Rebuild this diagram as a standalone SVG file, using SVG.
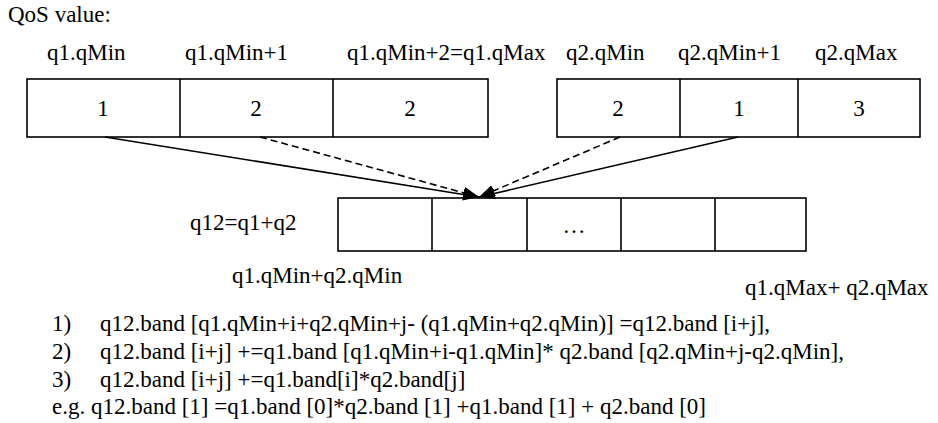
<svg xmlns="http://www.w3.org/2000/svg" width="938" height="423" viewBox="0 0 938 423">
<defs>
<marker id="ah" markerUnits="userSpaceOnUse" markerWidth="17" markerHeight="13" refX="16" refY="6" orient="auto">
<path d="M0,0 L16,6 L0,12 z" fill="#000"/>
</marker>
<style>
text{font-family:"Liberation Serif","DejaVu Serif","Noto Serif","Times New Roman",serif;font-size:23px;fill:#000}
.c{text-anchor:middle}
.box{fill:#fff;stroke:#000;stroke-width:1.6}
.ln{stroke:#000;stroke-width:1.6;fill:none}
.dash{stroke-dasharray:7 4}
</style>
</defs>
<rect width="938" height="423" fill="#fff"/>
<g font-family="Liberation Serif, DejaVu Serif, serif">
<text x="8" y="22">QoS value:</text>
<g id="labels">
<text x="47" y="60">q1.qMin</text>
<text x="185" y="60">q1.qMin+1</text>
<text x="347" y="60">q1.qMin+2=q1.qMax</text>
<text x="566" y="60">q2.qMin</text>
<text x="678" y="60">q2.qMin+1</text>
<text x="815" y="60">q2.qMax</text>
</g>
<g id="q1">
<rect class="box" x="27" y="79" width="461" height="58"/>
<line class="ln" x1="180" y1="79" x2="180" y2="137"/>
<line class="ln" x1="333" y1="79" x2="333" y2="137"/>
<text class="c" x="103" y="116">1</text>
<text class="c" x="256" y="116">2</text>
<text class="c" x="410" y="116">2</text>
</g>
<g id="q2">
<rect class="box" x="557" y="79" width="363" height="58"/>
<line class="ln" x1="680" y1="79" x2="680" y2="137"/>
<line class="ln" x1="798" y1="79" x2="798" y2="137"/>
<text class="c" x="618" y="116">2</text>
<text class="c" x="739" y="116">1</text>
<text class="c" x="859" y="116">3</text>
</g>
<g id="q12">
<text x="190" y="230">q12=q1+q2</text>
<rect class="box" x="338" y="198" width="468" height="53"/>
<line class="ln" x1="432" y1="198" x2="432" y2="251"/>
<line class="ln" x1="527" y1="198" x2="527" y2="251"/>
<line class="ln" x1="621" y1="198" x2="621" y2="251"/>
<line class="ln" x1="715" y1="198" x2="715" y2="251"/>
<text class="c" x="574" y="233">…</text>
<text x="232" y="283">q1.qMin+q2.qMin</text>
<text x="745" y="295">q1.qMax+ q2.qMax</text>
</g>
<g id="connectors">
<line class="ln" x1="105" y1="137" x2="479" y2="197" marker-end="url(#ah)"/>
<line class="ln dash" x1="260" y1="137" x2="479" y2="197" marker-end="url(#ah)"/>
<line class="ln dash" x1="620" y1="137" x2="479" y2="197" marker-end="url(#ah)"/>
<line class="ln" x1="738" y1="137" x2="479" y2="197" marker-end="url(#ah)"/>
</g>
<g id="formulas">
<text x="52" y="331">1)</text>
<text x="100" y="331">q12.band [q1.qMin+i+q2.qMin+j- (q1.qMin+q2.qMin)] =q12.band [i+j],</text>
<text x="52" y="359">2)</text>
<text x="100" y="359">q12.band [i+j] +=q1.band [q1.qMin+i-q1.qMin]* q2.band [q2.qMin+j-q2.qMin],</text>
<text x="52" y="387">3)</text>
<text x="100" y="387">q12.band [i+j] +=q1.band[i]*q2.band[j]</text>
<text x="52" y="414">e.g. q12.band [1] =q1.band [0]*q2.band [1] +q1.band [1] + q2.band [0]</text>
</g>
</g>
</svg>
